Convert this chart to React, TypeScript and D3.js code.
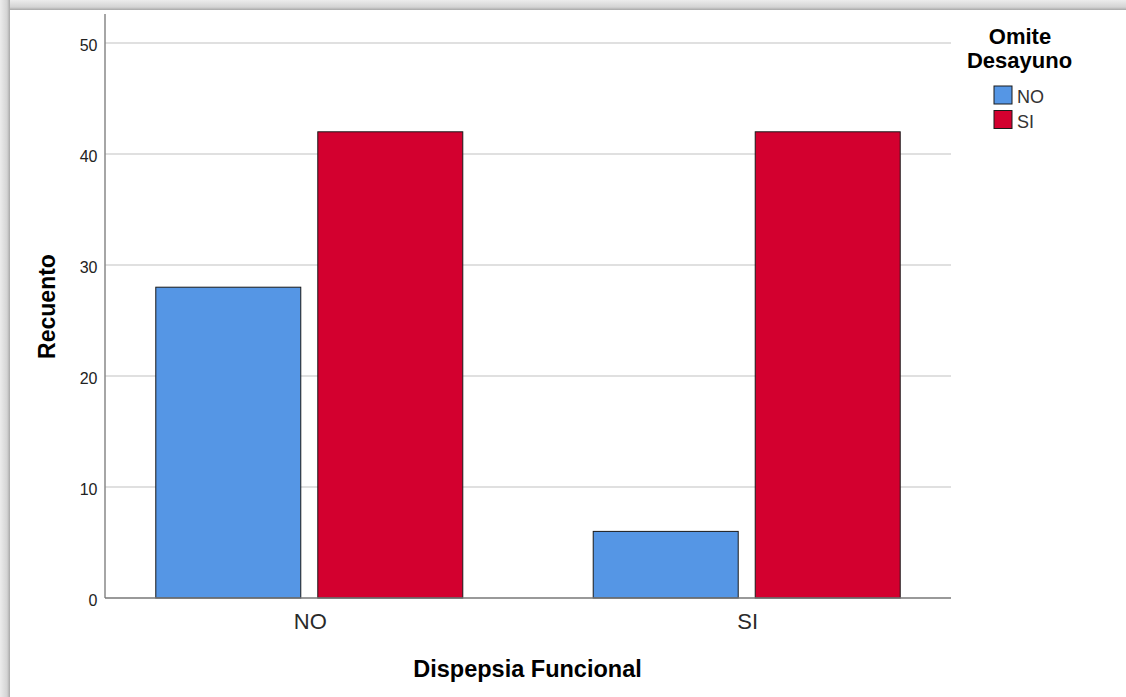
import React from "react";
import * as d3 from "d3";

const categories = ["NO", "SI"];
const subgroups = ["NO", "SI"];
const valuesNO = [28, 6];
const valuesSI = [42, 42];
const yTicks = [0, 10, 20, 30, 40, 50];
const colors = ["#5596E5", "#D3002F"];

export default function App() {
  const W = 1126, H = 697;
  const left = 105, right = 951, top = 14, bottom = 598;
  const y = d3.scaleLinear().domain([0, 50]).range([bottom, 43]);
  const x = d3.scalePoint<string>().domain(categories).range([left, right]).padding(0.467);
  const xs = d3.scaleBand<string>().domain(subgroups).range([-153.5, 153.5]).paddingInner(0.105).paddingOuter(0);
  const series = [valuesNO, valuesSI];
  const font = "'Liberation Sans', Arial, sans-serif";
  return (
    <svg width={W} height={H} style={{ position: "absolute", left: 0, top: 0, display: "block" }} fontFamily={font}>
      <defs>
        <linearGradient id="gt" x1="0" y1="0" x2="0" y2="1">
          <stop offset="0" stopColor="#ececec" />
          <stop offset="0.7" stopColor="#d4d4d4" />
          <stop offset="1" stopColor="#a8a8a8" />
        </linearGradient>
        <linearGradient id="gl" x1="0" y1="0" x2="1" y2="0">
          <stop offset="0" stopColor="#ececec" />
          <stop offset="0.7" stopColor="#d4d4d4" />
          <stop offset="1" stopColor="#a8a8a8" />
        </linearGradient>
      </defs>
      <rect x={0} y={0} width={W} height={H} fill="#fff" />
      <rect x={0} y={0} width={W} height={10} fill="url(#gt)" />
      <rect x={0} y={0} width={10} height={H} fill="url(#gl)" />
      {yTicks.filter(t => t > 0).map(t => (
        <line key={t} x1={left} x2={right} y1={y(t)} y2={y(t)} stroke="#d6d6d6" strokeWidth={1.5} />
      ))}
      {yTicks.map(t => (
        <text key={"l" + t} x={97.5} y={y(t) + 2.5} dy="0.35em" textAnchor="end" fontSize={16} fill="#222">{t}</text>
      ))}
      {categories.map((c, i) => (
        <g key={c} transform={`translate(${x(c)},0)`}>
          {subgroups.map((s, j) => (
            <rect key={s} x={xs(s)} y={y(series[j][i])} width={xs.bandwidth()} height={bottom - y(series[j][i])}
              fill={colors[j]} stroke="#1a1a1a" strokeWidth={1} />
          ))}
          <text x={1} y={629} textAnchor="middle" fontSize={22} fill="#2a2a2a">{c}</text>
        </g>
      ))}
      <line x1={left} x2={left} y1={top} y2={bottom} stroke="#888" strokeWidth={1.5} />
      <line x1={left} x2={right} y1={bottom} y2={bottom} stroke="#777" strokeWidth={1.5} />
      <text x={527.5} y={677} textAnchor="middle" fontSize={23.5} fontWeight="bold" fill="#000">Dispepsia Funcional</text>
      <text transform={`translate(55,306.5) rotate(-90)`} textAnchor="middle" fontSize={23} fontWeight="bold" fill="#000">Recuento</text>
      <text x={1020} y={44} textAnchor="middle" fontSize={22} fontWeight="bold" fill="#000">Omite</text>
      <text x={1019.5} y={68} textAnchor="middle" fontSize={22} fontWeight="bold" fill="#000">Desayuno</text>
      {subgroups.map((s, j) => (
        <g key={s} transform={`translate(994,${86 + j * 24.5})`}>
          <rect x={0} y={0} width={18} height={18} fill={colors[j]} stroke="#1a1a1a" strokeWidth={1} />
          <text x={23} y={17} fontSize={18} fill="#333">{s}</text>
        </g>
      ))}
    </svg>
  );
}
